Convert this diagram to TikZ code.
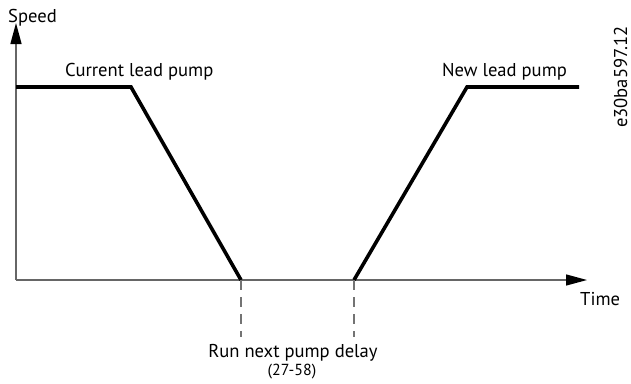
\documentclass[tikz,border=0pt]{standalone}
\usepackage{fontspec}
\setmainfont{PT Sans}
\usetikzlibrary{arrows.meta}
\begin{document}
\begin{tikzpicture}[x=1pt,y=-1pt,
  axis/.style={draw=black!60,line width=1.3pt,-{Triangle[length=21pt,width=11pt,color=black]}},
  ramp/.style={line width=3.6pt,line join=miter},
  guide/.style={draw=black!55,line width=1.3pt,dash pattern=on 10pt off 7pt},
  lbl/.style={font=\fontsize{18.6}{21}\selectfont,inner sep=0pt,anchor=base west}]
\useasboundingbox (0,0) rectangle (631,383);
\coordinate (o) at (16,280);
\coordinate (ytip) at (16,23);
\coordinate (xtip) at (587,280);
\coordinate (curA) at (16,87);
\coordinate (curB) at (131,87);
\coordinate (curC) at (241,280);
\coordinate (newA) at (354,280);
\coordinate (newB) at (467,87);
\coordinate (newC) at (579,87);
\coordinate (curD) at (241,337);
\coordinate (newD) at (354,337);
\draw[axis] (o)--(ytip);
\draw[axis] (o)--(xtip);
\node[lbl] (speed) at (8,22) {Speed};
\node[lbl] (time) at (580,305) {Time};
\draw[ramp] (curA)--(curB)--(curC);
\draw[ramp] (newA)--(newB)--(newC);
\draw[guide] (curC)--(curD);
\draw[guide] (newA)--(newD);
\node[lbl] (cur) at (65,76) {Current lead pump};
\node[lbl] (new) at (442,76) {New lead pump};
\node[lbl,anchor=base] (delay) at (293,357) {Run next pump delay};
\node[lbl,anchor=base,font=\fontsize{16}{18}\selectfont] (par) at (292,375) {(27-58)};
\node[lbl,rotate=90] (code) at (627,128) {e30ba597.12};
\end{tikzpicture}
\end{document}
